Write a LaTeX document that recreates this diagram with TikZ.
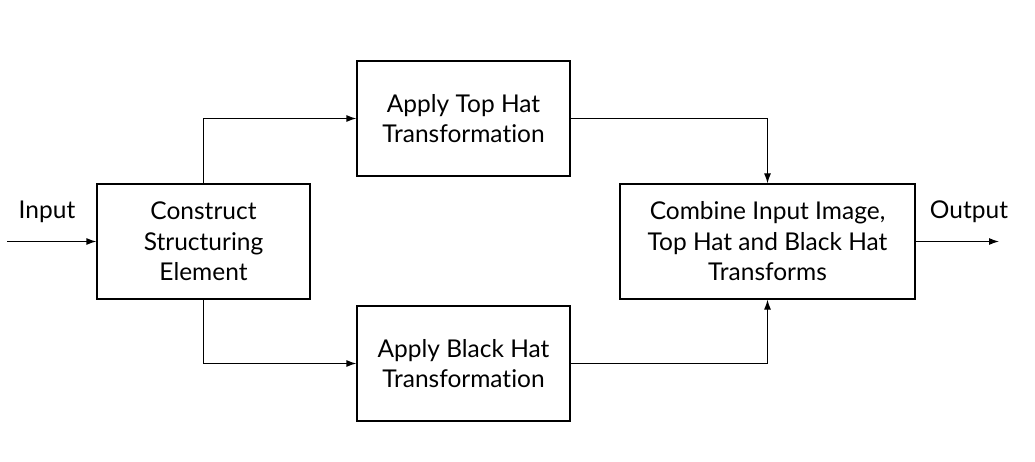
\documentclass[tikz,border=0pt]{standalone}
\usepackage{fontspec}
\setmainfont{Lato}[RawFeature={-liga;-dlig}]
\usetikzlibrary{arrows.meta}
\begin{document}
\begin{tikzpicture}[x=1pt,y=-1pt,
  box/.style={draw,line width=1.2pt,minimum width=213pt,minimum height=115pt,align=center,inner sep=0pt,
    font=\fontsize{24.5}{30.5}\selectfont},
  lbl/.style={font=\fontsize{24.5}{30.5}\selectfont,inner sep=0pt},
  conn/.style={line width=1.2pt,-{Latex[length=10pt,width=7pt]}}]
\useasboundingbox (0,0) rectangle (1035,462);
\node[box] (cse) at (203.5,241.5) {Construct\\Structuring\\Element};
\node[box] (top) at (463.5,118.5) {Apply Top Hat\\Transformation};
\node[box] (blk) at (463.5,363.5) {Apply Black Hat\\Transformation};
\node[box,minimum width=295pt] (cmb) at (767.5,241.5) {Combine Input Image,\\Top Hat and Black Hat\\Transforms};
\coordinate (in) at (7,241.5);
\coordinate (out) at (999,241.5);
\node[lbl] (inl) at (47,212) {Input};
\node[lbl] (outl) at (969,212) {Output};
\draw[conn] (in) -- (cse.west);
\draw[conn] (cmb.east) -- (out);
\draw[conn] (cse.north) |- (top.west);
\draw[conn] (cse.south) |- (blk.west);
\draw[conn] (top.east) -| (cmb.north);
\draw[conn] (blk.east) -| (cmb.south);
\end{tikzpicture}
\end{document}
